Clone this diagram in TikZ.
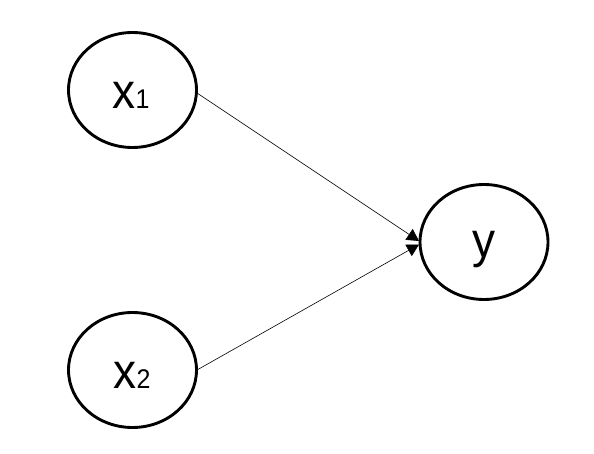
\documentclass[tikz,border=0pt]{standalone}
\usepackage{fontspec}
\setmainfont{Liberation Sans}
\usetikzlibrary{shapes.geometric,arrows.meta}
\tikzset{
  varnode/.style={draw=black, line width=2.9pt, ellipse, minimum width=128pt, minimum height=115pt, inner sep=0pt},
  vartext/.style={anchor=base, inner sep=0pt},
  conn/.style={draw=black, line width=0.6pt, -{Triangle[length=12pt,width=13pt]}}
}
\newcommand{\bigx}[1]{\scalebox{1}[1.08]{\fontsize{46}{46}\selectfont x\fontsize{25}{25}\selectfont #1}}
\begin{document}
\begin{tikzpicture}[x=1pt,y=-1pt]
  \useasboundingbox (0,0) rectangle (594,454);
  \node[varnode] (x1) at (132.5,90) {};
  \node[varnode] (x2) at (132.5,370) {};
  \node[varnode] (y) at (484,242) {};
  \node[vartext] (t1) at (131,109) {\bigx{1}};
  \node[vartext] (t2) at (132,388) {\bigx{2}};
  \node[vartext] (ty) at (484,258) {\scalebox{1}[1.08]{\fontsize{46}{46}\selectfont y}};
  \coordinate (in1) at (419,241);
  \coordinate (in2) at (419,244.5);
  \coordinate (out1) at (197,93);
  \coordinate (out2) at (197,370);
  \draw[conn] (out1) -- (in1);
  \draw[conn] (out2) -- (in2);
\end{tikzpicture}
\end{document}
